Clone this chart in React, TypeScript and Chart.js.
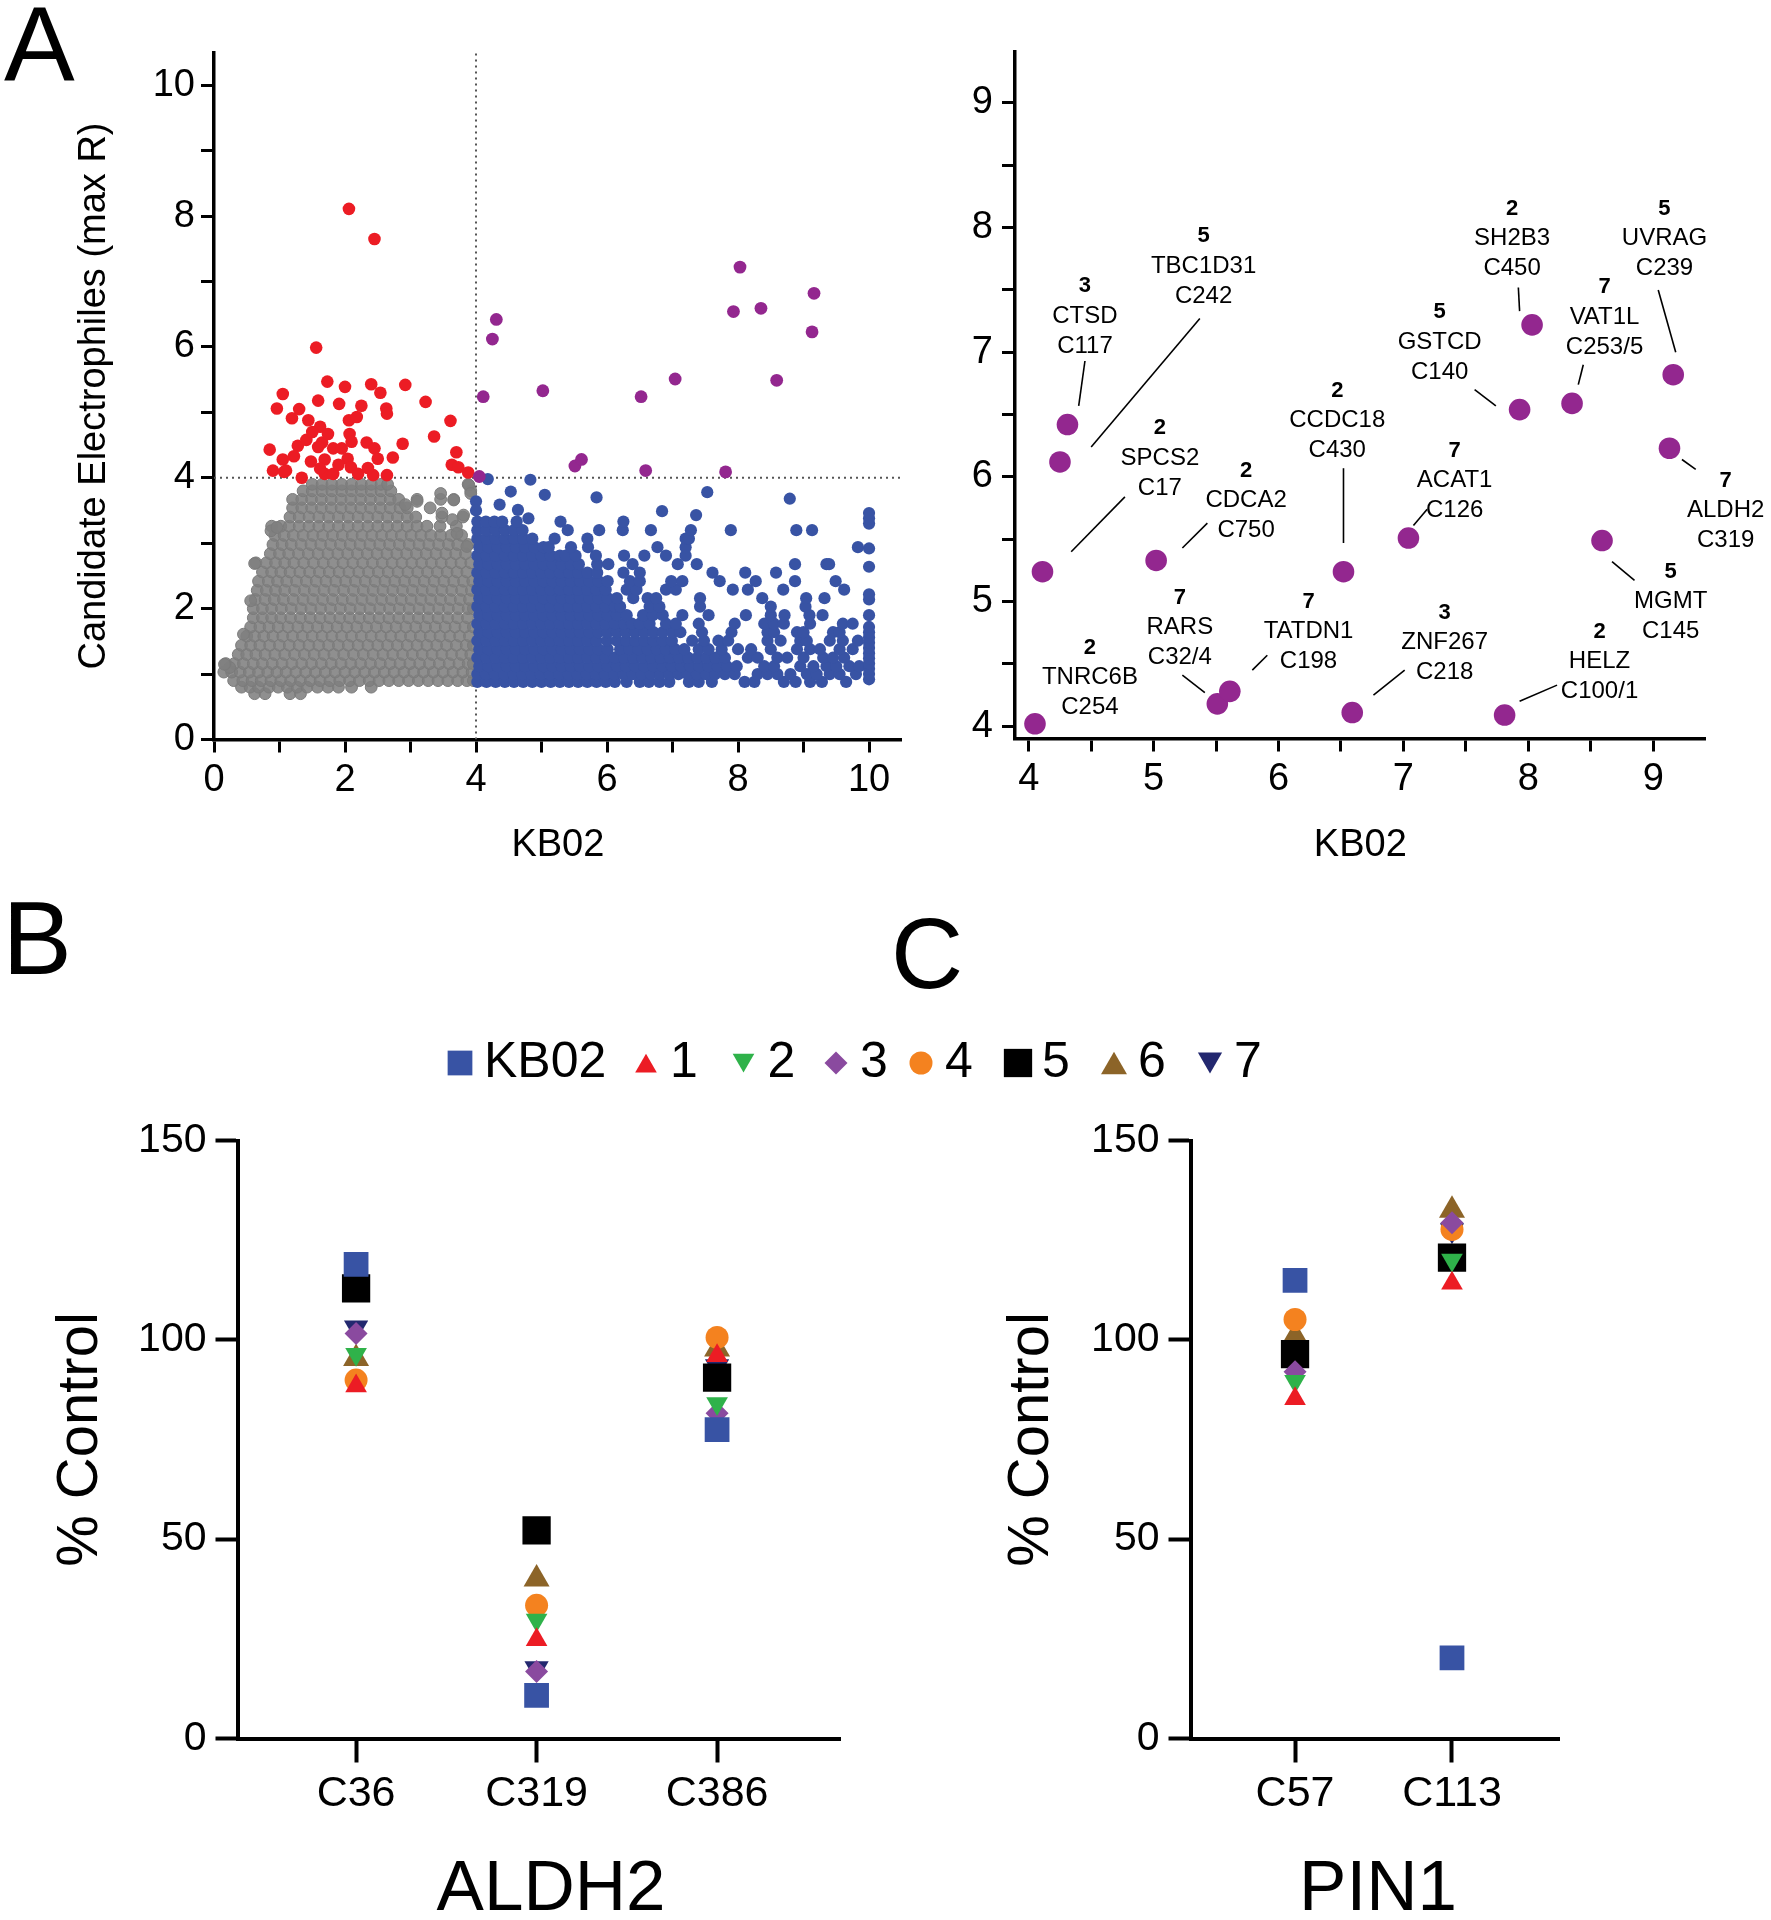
import React, { useEffect, useRef } from "react";
import { Chart, registerables } from "chart.js";
import { drawPoint } from "chart.js/helpers";

Chart.register(...registerables);

const FONT = "'Liberation Sans', Arial, Helvetica, sans-serif";
Chart.defaults.font.family = FONT;
Chart.defaults.color = "#000";

// ---------------- Panel A (left): all cysteines ----------------
const threshold = 4;

// gray: KB02 < 4 and R < 4 (dense cloud, rows of [y, x values])
const grayRows: [number, number[]][] = [
  [0.70, [0.62, 0.78, 1.16, 1.32]],
  [0.80, [0.42, 0.55, 0.68, 0.84, 0.98, 1.12, 1.27, 1.42, 1.58, 1.74, 1.9, 2.1, 2.4]],
  [0.90, [0.3, 0.44, 0.58, 0.72, 0.87, 1.02, 1.17, 1.32, 1.47, 1.62, 1.77, 1.92, 2.07, 2.22, 2.37, 2.52, 2.67, 2.82, 2.97, 3.12, 3.27, 3.42, 3.57, 3.72, 3.86, 3.96]],
  [1.03, [0.15, 0.27, 0.4, 0.54, 0.68, 0.82, 0.96, 1.1, 1.25, 1.4, 1.55, 1.7, 1.85, 2.0, 2.15, 2.3, 2.45, 2.6, 2.75, 2.9, 3.05, 3.2, 3.35, 3.5, 3.65, 3.8, 3.94]],
  [1.16, [0.18, 0.31, 0.45, 0.6, 0.74, 0.89, 1.04, 1.19, 1.34, 1.49, 1.64, 1.79, 1.94, 2.09, 2.24, 2.39, 2.54, 2.69, 2.84, 2.99, 3.14, 3.29, 3.44, 3.59, 3.74, 3.88, 3.96]],
  [1.30, [0.37, 0.5, 0.64, 0.78, 0.93, 1.08, 1.23, 1.38, 1.53, 1.68, 1.83, 1.98, 2.13, 2.28, 2.43, 2.58, 2.73, 2.88, 3.03, 3.18, 3.33, 3.48, 3.63, 3.78, 3.92]],
  [1.44, [0.42, 0.56, 0.7, 0.85, 1.0, 1.15, 1.3, 1.45, 1.6, 1.75, 1.9, 2.05, 2.2, 2.35, 2.5, 2.65, 2.8, 2.95, 3.1, 3.25, 3.4, 3.55, 3.7, 3.85, 3.96]],
  [1.58, [0.5, 0.62, 0.76, 0.9, 1.05, 1.2, 1.35, 1.5, 1.65, 1.8, 1.95, 2.1, 2.25, 2.4, 2.55, 2.7, 2.85, 3.0, 3.15, 3.3, 3.45, 3.6, 3.75, 3.9]],
  [1.72, [0.56, 0.7, 0.84, 0.98, 1.13, 1.28, 1.43, 1.58, 1.73, 1.88, 2.03, 2.18, 2.33, 2.48, 2.63, 2.78, 2.93, 3.08, 3.23, 3.38, 3.53, 3.68, 3.83, 3.96]],
  [1.86, [0.6, 0.74, 0.88, 1.02, 1.17, 1.32, 1.47, 1.62, 1.77, 1.92, 2.07, 2.22, 2.37, 2.52, 2.67, 2.82, 2.97, 3.12, 3.27, 3.42, 3.57, 3.72, 3.87]],
  [2.00, [0.6, 0.74, 0.88, 1.03, 1.18, 1.33, 1.48, 1.63, 1.78, 1.93, 2.08, 2.23, 2.38, 2.53, 2.68, 2.83, 2.98, 3.13, 3.28, 3.43, 3.58, 3.73, 3.88, 3.96]],
  [2.14, [0.63, 0.78, 0.92, 1.06, 1.21, 1.36, 1.51, 1.66, 1.81, 1.96, 2.11, 2.26, 2.41, 2.56, 2.71, 2.86, 3.01, 3.16, 3.31, 3.46, 3.61, 3.76, 3.9]],
  [2.28, [0.66, 0.8, 0.94, 1.08, 1.23, 1.38, 1.53, 1.68, 1.83, 1.98, 2.13, 2.28, 2.43, 2.58, 2.73, 2.88, 3.03, 3.18, 3.33, 3.48, 3.63, 3.78, 3.93]],
  [2.42, [0.68, 0.83, 0.97, 1.11, 1.26, 1.41, 1.56, 1.71, 1.86, 2.01, 2.16, 2.31, 2.46, 2.61, 2.76, 2.91, 3.06, 3.21, 3.36, 3.51, 3.66, 3.81, 3.95]],
  [2.56, [0.74, 0.88, 1.02, 1.16, 1.31, 1.46, 1.61, 1.76, 1.91, 2.06, 2.21, 2.36, 2.51, 2.66, 2.81, 2.96, 3.11, 3.26, 3.41, 3.56, 3.71, 3.86]],
  [2.70, [0.64, 0.8, 0.94, 1.08, 1.22, 1.37, 1.52, 1.67, 1.82, 1.97, 2.12, 2.27, 2.42, 2.57, 2.72, 2.87, 3.02, 3.17, 3.32, 3.47, 3.62, 3.77, 3.92]],
  [2.84, [0.86, 1.0, 1.14, 1.29, 1.44, 1.59, 1.74, 1.89, 2.04, 2.19, 2.34, 2.49, 2.64, 2.79, 2.94, 3.09, 3.24, 3.39, 3.54, 3.69, 3.84]],
  [2.98, [0.9, 1.04, 1.18, 1.33, 1.48, 1.63, 1.78, 1.93, 2.08, 2.23, 2.38, 2.53, 2.68, 2.83, 2.98, 3.13, 3.28, 3.43, 3.58, 3.72, 3.88]],
  [3.12, [0.93, 1.07, 1.21, 1.36, 1.51, 1.66, 1.81, 1.96, 2.11, 2.26, 2.41, 2.56, 2.71, 2.86, 3.01, 3.16, 3.31, 3.46, 3.62, 3.78]],
  [3.26, [0.88, 1.02, 1.15, 1.3, 1.45, 1.6, 1.75, 1.9, 2.05, 2.2, 2.35, 2.5, 2.65, 2.8, 2.95, 3.1, 3.25, 3.45, 3.7]],
  [3.40, [1.16, 1.3, 1.45, 1.6, 1.75, 1.9, 2.05, 2.2, 2.35, 2.5, 2.65, 2.8, 2.95, 3.08, 3.48, 3.8]],
  [3.54, [1.2, 1.34, 1.49, 1.64, 1.79, 1.94, 2.09, 2.24, 2.39, 2.54, 2.69, 2.84, 2.95, 3.3]],
  [3.67, [1.2, 1.34, 1.49, 1.64, 1.79, 1.94, 2.09, 2.24, 2.39, 2.54, 2.69, 2.82, 3.1, 3.46, 3.66]],
  [3.80, [1.36, 1.5, 1.65, 1.8, 1.95, 2.1, 2.25, 2.4, 2.55, 2.7, 3.92]],
  [3.90, [1.5, 1.65, 1.8, 1.95, 2.1, 2.25, 2.4, 2.55, 2.65, 3.88]],
];
const grayExtraX = [3.46, 3.66, 3.81, 3.89, 3.92, 3.1, 2.92, 3.48, 3.64, 3.71, 3.86, 0.62, 0.56, 0.45, 0.24, 0.16, 0.87, 0.96];
const grayExtraY = [3.76, 3.66, 3.43, 3.89, 3.76, 3.64, 3.59, 3.46, 3.36, 3.15, 2.95, 2.69, 2.12, 1.61, 1.10, 1.15, 3.19, 3.24];

// blue: KB02 > 4, R < 4
const blueRows: [number, number[]][] = [
  [0.88, [4.02, 4.16, 4.3, 4.44, 4.58, 4.72, 4.86, 5.0, 5.14, 5.28, 5.42, 5.56, 5.7, 5.84, 5.98, 6.12, 6.3, 6.5, 6.64, 6.8, 6.95, 7.25, 7.4, 7.6, 8.1, 8.25, 8.7, 8.88, 9.1, 9.28, 9.65]],
  [1.00, [4.02, 4.15, 4.29, 4.43, 4.57, 4.71, 4.85, 4.99, 5.13, 5.27, 5.41, 5.55, 5.69, 5.83, 5.97, 6.11, 6.25, 6.39, 6.53, 6.67, 6.81, 6.95, 7.09, 7.23, 7.37, 7.51, 7.65, 7.8, 7.95, 8.3, 8.45, 8.6, 8.8, 9.05, 9.2, 9.4, 9.55, 9.8]],
  [1.12, [4.05, 4.19, 4.33, 4.47, 4.61, 4.75, 4.89, 5.03, 5.17, 5.31, 5.45, 5.59, 5.73, 5.87, 6.01, 6.15, 6.29, 6.43, 6.57, 6.71, 6.85, 6.99, 7.13, 7.27, 7.41, 7.55, 7.69, 7.83, 7.98, 8.4, 8.55, 8.95, 9.15, 9.35, 9.5, 9.7, 9.85]],
  [1.25, [4.02, 4.16, 4.3, 4.44, 4.58, 4.72, 4.86, 5.0, 5.14, 5.28, 5.42, 5.56, 5.7, 5.84, 5.98, 6.12, 6.26, 6.4, 6.54, 6.68, 6.82, 6.96, 7.1, 7.24, 7.38, 7.52, 7.66, 7.8, 8.15, 8.3, 8.6, 8.75, 9.0, 9.3, 9.45, 9.62]],
  [1.38, [4.05, 4.19, 4.33, 4.47, 4.61, 4.75, 4.89, 5.03, 5.17, 5.31, 5.45, 5.59, 5.73, 5.87, 6.01, 6.2, 6.34, 6.48, 6.62, 6.76, 6.9, 7.04, 7.18, 7.4, 7.55, 7.75, 8.0, 8.2, 8.5, 8.9, 9.1, 9.25, 9.55, 9.75]],
  [1.51, [4.02, 4.16, 4.3, 4.44, 4.58, 4.72, 4.86, 5.0, 5.14, 5.28, 5.42, 5.56, 5.7, 5.84, 6.0, 6.15, 6.29, 6.43, 6.57, 6.71, 6.85, 6.99, 7.3, 7.48, 7.7, 7.85, 8.45, 8.65, 8.95, 9.05, 9.4, 9.6, 9.83]],
  [1.64, [4.05, 4.19, 4.33, 4.47, 4.61, 4.75, 4.89, 5.03, 5.17, 5.31, 5.45, 5.59, 5.73, 5.87, 6.01, 6.15, 6.29, 6.43, 6.57, 6.71, 6.85, 7.0, 7.12, 7.45, 7.9, 8.45, 8.55, 8.9, 9.0, 9.45, 9.55]],
  [1.77, [4.02, 4.16, 4.3, 4.44, 4.58, 4.72, 4.86, 5.0, 5.14, 5.28, 5.42, 5.56, 5.7, 5.84, 5.98, 6.12, 6.26, 6.38, 6.5, 6.65, 6.9, 7.05, 7.4, 7.95, 8.4, 8.55, 8.7, 9.1, 9.6, 9.75]],
  [1.90, [4.05, 4.19, 4.33, 4.47, 4.61, 4.75, 4.89, 5.03, 5.17, 5.31, 5.45, 5.59, 5.73, 5.87, 6.01, 6.15, 6.3, 6.55, 6.7, 6.85, 7.15, 7.55, 8.12, 8.5, 8.71, 9.09, 9.29]],
  [2.03, [4.02, 4.16, 4.3, 4.44, 4.58, 4.72, 4.86, 5.0, 5.14, 5.28, 5.42, 5.56, 5.7, 5.84, 5.98, 6.12, 6.2, 6.65, 6.8, 7.42, 8.5, 9.03]],
  [2.16, [4.05, 4.19, 4.33, 4.47, 4.61, 4.75, 4.89, 5.03, 5.17, 5.31, 5.45, 5.59, 5.73, 5.87, 6.01, 6.15, 6.4, 6.62, 6.75, 7.42, 8.37, 9.04, 9.32]],
  [2.29, [4.02, 4.16, 4.3, 4.44, 4.58, 4.72, 4.86, 5.0, 5.14, 5.28, 5.42, 5.56, 5.7, 5.84, 5.98, 6.3, 6.45, 6.9, 7.05, 7.92, 8.15, 8.69, 9.62]],
  [2.42, [4.05, 4.19, 4.33, 4.47, 4.61, 4.75, 4.89, 5.03, 5.17, 5.31, 5.45, 5.59, 5.73, 5.87, 6.01, 6.35, 6.5, 6.98, 7.15, 7.72, 8.27, 8.87, 9.49]],
  [2.55, [4.02, 4.16, 4.3, 4.44, 4.58, 4.72, 4.86, 5.0, 5.14, 5.28, 5.42, 5.56, 5.7, 5.85, 6.25, 6.5, 7.61, 8.11, 8.58]],
  [2.68, [4.05, 4.19, 4.33, 4.47, 4.61, 4.75, 4.89, 5.03, 5.17, 5.31, 5.45, 5.57, 5.85, 6.02, 6.39, 7.08, 7.37, 8.87, 9.35]],
  [2.81, [4.02, 4.16, 4.3, 4.44, 4.58, 4.72, 4.86, 5.0, 5.14, 5.28, 5.37, 5.52, 5.83, 6.26, 6.57, 6.9, 7.2]],
  [2.94, [4.05, 4.19, 4.33, 4.47, 4.61, 4.75, 4.89, 5.03, 5.11, 5.45, 5.71, 6.77, 7.2, 9.83]],
  [3.07, [4.02, 4.16, 4.3, 4.44, 4.58, 4.72, 4.86, 5.2, 5.7, 7.2, 7.25]],
  [3.20, [4.02, 4.16, 4.3, 4.44, 4.58, 4.71, 5.4, 5.88, 6.24, 6.67, 7.28, 7.89, 8.89, 9.13]],
  [3.33, [4.02, 4.15, 4.28, 4.4, 4.62, 5.29, 6.25]],
];
const blueExtraX = [4.18, 4.83, 4.53, 5.05, 4.0, 4.36, 4.64, 4.8, 5.84, 6.84, 7.53, 8.79, 7.36, 9.39, 4.0];
const blueExtraY = [3.98, 3.97, 3.79, 3.74, 3.64, 3.59, 3.51, 3.38, 3.70, 3.49, 3.78, 3.68, 3.43, 2.68, 3.50];
// cysteines with KB02 ratio capped at 10
const blueCappedY = [0.92, 1.0, 1.08, 1.16, 1.24, 1.32, 1.4, 1.48, 1.56, 1.64, 1.72, 1.9, 2.14, 2.22, 2.64, 2.92, 3.3, 3.38, 3.46];
const cappedKB02 = 10;

// red: KB02 < 4, R > 4
const redX = [2.06, 2.45, 1.56, 1.05, 0.96, 1.19, 0.85, 0.9, 1.05, 1.1, 1.28, 1.34, 1.41, 1.44, 1.48, 1.59, 1.73, 1.62, 1.65, 1.74, 1.59, 1.69, 1.82, 1.69, 1.82, 1.62, 1.91, 2.0, 2.06, 2.07, 2.04, 2.09, 2.18, 2.2, 2.33, 2.4, 2.45, 2.5, 2.43, 2.54, 2.63, 2.64, 2.64, 2.73, 2.88, 2.92, 3.23, 3.36, 3.61, 3.7, 3.63, 3.73, 3.88, 1.22, 1.07, 1.3, 1.5, 2.25, 1.95, 2.1, 2.35, 1.9];
const redY = [8.11, 7.65, 5.99, 5.28, 5.06, 4.91, 4.43, 4.11, 4.28, 4.11, 4.49, 4.0, 4.58, 4.88, 4.25, 5.18, 5.47, 4.78, 4.54, 4.67, 4.47, 4.28, 4.45, 4.06, 4.06, 4.14, 5.13, 5.39, 4.88, 4.67, 4.29, 4.16, 4.93, 4.06, 4.54, 5.43, 4.45, 4.29, 4.04, 5.3, 5.06, 4.98, 4.04, 4.31, 4.52, 5.42, 5.16, 4.63, 4.87, 4.39, 4.2, 4.16, 4.08, 4.33, 4.09, 5.05, 4.7, 5.1, 4.45, 4.55, 4.15, 4.2];

// purple: both > 4 (also plotted in the zoomed panel)
const hitX = [4.05, 4.11, 4.25, 4.31, 5.02, 5.51, 5.61, 6.52, 6.59, 7.04, 7.81, 7.93, 8.03, 8.35, 8.59, 9.13, 9.16];
const hitY = [4.02, 5.24, 6.12, 6.42, 5.33, 4.18, 4.28, 5.24, 4.11, 5.51, 4.09, 6.54, 7.22, 6.59, 5.49, 6.23, 6.82];
const hitCompound = ["2", "2", "5", "3", "2", "7", "7", "2", "3", "7", "2", "5", "2", "7", "5", "7", "5"];
const hitGene = ["TNRC6B", "SPCS2", "TBC1D31", "CTSD", "CDCA2", "RARS", "TATDN1", "CCDC18", "ZNF267", "ACAT1", "HELZ", "GSTCD", "SH2B3", "VAT1L", "MGMT", "ALDH2", "UVRAG"];
const hitSite = ["C254", "C17", "C242", "C117", "C750", "C32/4", "C198", "C430", "C218", "C126", "C100/1", "C140", "C450", "C253/5", "C145", "C319", "C239"];
// annotation layout (data coordinates of the gene-name line, and leader segments)
const hitLabelAt: [number, number][] = [
  [4.49, 4.39], [5.05, 6.15], [5.40, 7.69], [4.45, 7.29], [5.74, 5.81], [5.21, 4.79], [6.24, 4.76], [6.47, 6.45], [7.33, 4.67],
  [7.41, 5.97], [8.57, 4.52], [7.29, 7.08], [7.87, 7.91], [8.61, 7.28], [9.14, 5.00], [9.58, 5.73], [9.09, 7.91],
];
const hitLeader: (number[] | null)[] = [
  null, [4.77, 5.84, 4.34, 5.40], [5.37, 7.27, 4.50, 6.24], [4.45, 6.93, 4.40, 6.57], [5.43, 5.63, 5.23, 5.43],
  [5.23, 4.41, 5.41, 4.27], [5.79, 4.45, 5.91, 4.57], [6.52, 6.07, 6.52, 5.47], [6.76, 4.25, 7.01, 4.45],
  [7.19, 5.74, 7.08, 5.61], [7.93, 4.20, 8.23, 4.33], [7.57, 6.70, 7.74, 6.57], [7.92, 7.52, 7.93, 7.33],
  [8.44, 6.90, 8.40, 6.74], [8.67, 5.32, 8.85, 5.17], [9.23, 6.14, 9.34, 6.06], [9.04, 7.50, 9.18, 7.00],
];

// ---------------- Panels B and C ----------------
const compounds = ["KB02", "1", "2", "3", "4", "5", "6", "7"];
const aldh2Sites = ["C36", "C319", "C386"];
const aldh2Values = [
  [118.9, 10.8, 77.5],
  [88.4, 24.8, 96.0],
  [96.4, 29.7, 84.0],
  [101.6, 16.8, 81.6],
  [89.9, 33.4, 100.6],
  [112.9, 52.2, 90.5],
  [95.3, 40.0, 97.7],
  [103.1, 17.6, 93.4],
];
const pin1Sites = ["C57", "C113"];
const pin1Values = [
  [114.9, 20.2],
  [85.2, 114.2],
  [89.6, 120.0],
  [92.0, 129.4],
  [105.1, 127.7],
  [96.4, 120.6],
  [100.9, 132.5],
  [96.0, 127.5],
];
const compoundColor = ["#3853a4", "#ec1c24", "#2fb24a", "#8a4a9f", "#f4821f", "#000000", "#8c6428", "#23286f"];
const compoundStyle = ["rect", "triangle", "triangle", "rectRot", "circle", "rect", "triangle", "triangle"];
const compoundRotation = [0, 0, 180, 0, 0, 0, 0, 180];
const compoundRadius = [17.5, 12.5, 12.5, 11.5, 11.5, 20, 15, 14];
const legendCenterX = [460, 646, 743.5, 836, 921, 1018, 1114, 1210];

// ---------------- helpers ----------------
const RED = "#ec1c24";
const BLUE = "#3853a4";
const PURPLE = "#93278f";

function rowsToPoints(rows: [number, number[]][]) {
  const out: { x: number; y: number }[] = [];
  rows.forEach(([y, xs]) => xs.forEach((x) => out.push({ x, y })));
  return out;
}
function zip(xs: number[], ys: number[]) {
  return xs.map((x, i) => ({ x, y: ys[i] }));
}

function textPlugin(id: string, items: { t: string; x: number; y: number; size: number; align?: string; bold?: boolean }[]) {
  return {
    id,
    afterDraw(chart: any) {
      const ctx = chart.ctx;
      ctx.save();
      ctx.fillStyle = "#000";
      ctx.textBaseline = "alphabetic";
      items.forEach((it) => {
        ctx.textAlign = it.align || "left";
        ctx.font = `${it.bold ? "bold " : ""}${it.size}px ${FONT}`;
        ctx.fillText(it.t, it.x, it.y);
      });
      ctx.restore();
    },
  };
}

function topAxis(o: {
  min: number; max: number; step: number; size: number; horizontal: boolean;
  title?: string; titlePad?: any; tickPad: number; labelIf: (v: number) => boolean;
}) {
  return {
    type: "linear",
    min: o.min,
    max: o.max,
    afterFit: (s: any) => {
      if (o.horizontal) s.height = o.size;
      else s.width = o.size;
    },
    ticks: {
      stepSize: o.step,
      includeBounds: false,
      autoSkip: false,
      maxRotation: 0,
      minRotation: 0,
      padding: o.tickPad,
      color: "#000",
      font: { size: 38, family: FONT },
      callback: (v: number) => (o.labelIf(v) ? String(v) : ""),
    },
    grid: { display: true, drawOnChartArea: false, drawTicks: true, tickLength: 13, tickWidth: 3, tickColor: "#000" },
    border: { display: true, color: "#000", width: 3.5 },
    title: o.title
      ? { display: true, text: o.title, color: "#000", font: { size: 38, family: FONT }, padding: o.titlePad }
      : { display: false },
  };
}

function dotPlot(sites: string[], values: number[][], o: {
  yWidth: number; padRight: number; xMin: number; xMax: number; yTitlePad: number;
}) {
  return {
    type: "scatter",
    data: {
      datasets: compounds.map((c, i) => ({
        label: c,
        data: values[i].map((v, j) => ({ x: j + 1, y: v })),
        pointStyle: compoundStyle[i],
        pointRotation: compoundRotation[i],
        pointRadius: compoundRadius[i],
        pointHoverRadius: compoundRadius[i],
        backgroundColor: compoundColor[i],
        borderColor: compoundColor[i],
        borderWidth: 0,
        pointBorderWidth: 0,
      })),
    },
    options: {
      responsive: false,
      animation: false,
      events: [],
      layout: { padding: { top: 260.5, right: o.padRight, left: 0, bottom: 0 } },
      plugins: { legend: { display: false }, tooltip: { enabled: false } },
      scales: {
        x: {
          type: "linear",
          min: o.xMin,
          max: o.xMax,
          afterFit: (s: any) => { s.height = 181.5; },
          afterBuildTicks: (s: any) => { s.ticks = sites.map((_, j) => ({ value: j + 1 })); },
          ticks: {
            autoSkip: false, maxRotation: 0, minRotation: 0, padding: 6, color: "#000",
            font: { size: 43, family: FONT },
            callback: (v: number) => sites[Math.round(v) - 1] ?? "",
          },
          grid: { display: true, drawOnChartArea: false, drawTicks: true, tickLength: 24, tickWidth: 4, tickColor: "#000" },
          border: { display: true, color: "#000", width: 4 },
          title: { display: false },
        },
        y: {
          type: "linear",
          min: 0,
          max: 150,
          afterFit: (s: any) => { s.width = o.yWidth; },
          ticks: { stepSize: 50, includeBounds: false, padding: 9, color: "#000", font: { size: 41, family: FONT } },
          grid: { display: true, drawOnChartArea: false, drawTicks: true, tickLength: 22, tickWidth: 4, tickColor: "#000" },
          border: { display: true, color: "#000", width: 4 },
          title: { display: true, text: "% Control", color: "#000", font: { size: 58, family: FONT }, padding: { top: o.yTitlePad, bottom: 0 } },
        },
      },
    },
  };
}

// ---------------- chart configs ----------------
function configA1(): any {
  const grayPts = rowsToPoints(grayRows).concat(zip(grayExtraX, grayExtraY));
  const bluePts = rowsToPoints(blueRows)
    .concat(zip(blueExtraX, blueExtraY))
    .concat(blueCappedY.map((y) => ({ x: cappedKB02, y })));
  return {
    type: "scatter",
    data: {
      datasets: [
        { label: "both", data: zip(hitX, hitY), pointRadius: 6.4, backgroundColor: PURPLE, borderColor: PURPLE, borderWidth: 0, order: 1 },
        { label: "electrophiles", data: zip(redX, redY), pointRadius: 6.3, backgroundColor: RED, borderColor: RED, borderWidth: 0, order: 2 },
        { label: "KB02", data: bluePts, pointRadius: 6.1, backgroundColor: BLUE, borderColor: BLUE, borderWidth: 0, order: 3 },
        { label: "other", data: grayPts, pointRadius: 5.9, backgroundColor: "rgba(128,128,128,0.88)", borderColor: "rgba(122,122,122,1)", borderWidth: 1, order: 4 },
        {
          label: "v", data: [{ x: threshold, y: 0 }, { x: threshold, y: 10.5 }], showLine: true, pointRadius: 0,
          borderColor: "#555", borderWidth: 2, borderDash: [2, 4], order: 5,
        },
        {
          label: "h", data: [{ x: 0, y: threshold }, { x: 10.5, y: threshold }], showLine: true, pointRadius: 0,
          borderColor: "#555", borderWidth: 2, borderDash: [2, 4], order: 5,
        },
      ],
    },
    options: {
      responsive: false,
      animation: false,
      events: [],
      layout: { padding: { top: 52.5, right: 38.2, left: 0, bottom: 0 } },
      plugins: { legend: { display: false }, tooltip: { enabled: false } },
      scales: {
        x: topAxis({ min: 0, max: 10.5, step: 1, size: 160.5, horizontal: true, title: "KB02", titlePad: { top: 0, bottom: 32 }, tickPad: 5, labelIf: (v) => v % 2 === 0 }),
        y: topAxis({ min: 0, max: 10.5, step: 1, size: 214, horizontal: false, title: "Candidate Electrophiles (max R)", titlePad: { top: 71.5, bottom: 0 }, tickPad: 6, labelIf: (v) => v % 2 === 0 }),
      },
    },
    plugins: [textPlugin("letterA", [{ t: "A", x: 4, y: 80, size: 106 }])],
  };
}

const hitLabelPlugin = {
  id: "hitLabels",
  afterDraw(chart: any) {
    const { ctx } = chart;
    const xs = chart.scales.x;
    const ys = chart.scales.y;
    ctx.save();
    ctx.strokeStyle = "#000";
    ctx.lineWidth = 1.6;
    hitLeader.forEach((s) => {
      if (!s) return;
      ctx.beginPath();
      ctx.moveTo(xs.getPixelForValue(s[0]), ys.getPixelForValue(s[1]));
      ctx.lineTo(xs.getPixelForValue(s[2]), ys.getPixelForValue(s[3]));
      ctx.stroke();
    });
    ctx.fillStyle = "#000";
    ctx.textAlign = "center";
    ctx.textBaseline = "middle";
    hitGene.forEach((g, i) => {
      const px = xs.getPixelForValue(hitLabelAt[i][0]);
      const py = ys.getPixelForValue(hitLabelAt[i][1]);
      ctx.font = `bold 22px ${FONT}`;
      ctx.fillText(hitCompound[i], px, py - 30);
      ctx.font = `24px ${FONT}`;
      ctx.fillText(g, px, py);
      ctx.fillText(hitSite[i], px, py + 30);
    });
    ctx.restore();
  },
};

function configA2(): any {
  return {
    type: "scatter",
    data: {
      datasets: [
        { label: "both", data: zip(hitX, hitY), pointRadius: 10.8, backgroundColor: PURPLE, borderColor: PURPLE, borderWidth: 0 },
      ],
    },
    options: {
      responsive: false,
      animation: false,
      events: [],
      layout: { padding: { top: 51.8, right: 65.3, left: 0, bottom: 0 } },
      plugins: { legend: { display: false }, tooltip: { enabled: false } },
      scales: {
        x: topAxis({ min: 3.89, max: 9.42, step: 0.5, size: 161.5, horizontal: true, title: "KB02", titlePad: { top: 0, bottom: 32 }, tickPad: 5, labelIf: (v) => Number.isInteger(v) }),
        y: topAxis({ min: 3.902, max: 9.41, step: 0.5, size: 75, horizontal: false, tickPad: 9, labelIf: (v) => Number.isInteger(v) }),
      },
    },
    plugins: [hitLabelPlugin],
  };
}

const legendPlugin = {
  id: "compoundLegend",
  afterDraw(chart: any) {
    const ctx = chart.ctx;
    const midY = 183;
    ctx.save();
    chart.data.datasets.forEach((ds: any, i: number) => {
      const r = ds.pointRadius;
      let cy = midY;
      if (ds.pointStyle === "triangle") cy = ds.pointRotation ? midY - r / 4 : midY + r / 4;
      ctx.fillStyle = ds.backgroundColor;
      ctx.strokeStyle = ds.backgroundColor;
      drawPoint(ctx, { pointStyle: ds.pointStyle, radius: r, rotation: ds.pointRotation, borderWidth: 0 } as any, legendCenterX[i], cy);
      ctx.fillStyle = "#000";
      ctx.font = `50px ${FONT}`;
      ctx.textAlign = "left";
      ctx.textBaseline = "alphabetic";
      ctx.fillText(ds.label, legendCenterX[i] + 24, 197);
    });
    ctx.restore();
  },
};

function configB(): any {
  const cfg: any = dotPlot(aldh2Sites, aldh2Values, { yWidth: 237.5, padRight: 931, xMin: 0.343, xMax: 3.681, yTitlePad: 46.2 });
  cfg.plugins = [
    legendPlugin,
    textPlugin("letterB", [
      { t: "B", x: 2.5, y: 94, size: 104 },
      { t: "ALDH2", x: 551, y: 1030, size: 71, align: "center" },
    ]),
  ];
  return cfg;
}
function configC(): any {
  const cfg: any = dotPlot(pin1Sites, pin1Values, { yWidth: 310.5, padRight: 211.8, xMin: 0.334, xMax: 2.683, yTitlePad: 117 });
  cfg.plugins = [
    textPlugin("letterC", [
      { t: "C", x: 11, y: 108, size: 100 },
      { t: "PIN1", x: 498, y: 1030, size: 71, align: "center" },
    ]),
  ];
  return cfg;
}

export default function App() {
  const a1 = useRef<HTMLCanvasElement>(null);
  const a2 = useRef<HTMLCanvasElement>(null);
  const b = useRef<HTMLCanvasElement>(null);
  const c = useRef<HTMLCanvasElement>(null);

  useEffect(() => {
    const charts: Chart[] = [];
    if (a1.current) charts.push(new Chart(a1.current, configA1()));
    if (a2.current) charts.push(new Chart(a2.current, configA2()));
    if (b.current) charts.push(new Chart(b.current, configB()));
    if (c.current) charts.push(new Chart(c.current, configC()));
    return () => charts.forEach((ch) => ch.destroy());
  }, []);

  return (
    <div style={{ position: "absolute", left: 0, top: 0, width: 1771, height: 1920, background: "#fff", overflow: "hidden" }}>
      <canvas ref={a1} width={940} height={900} style={{ position: "absolute", left: 0, top: 0, width: 940, height: 900 }} />
      <canvas ref={a2} width={831} height={900} style={{ position: "absolute", left: 940, top: 0, width: 831, height: 900 }} />
      <canvas ref={b} width={1771} height={1040} style={{ position: "absolute", left: 0, top: 880, width: 1771, height: 1040 }} />
      <canvas ref={c} width={891} height={1040} style={{ position: "absolute", left: 880, top: 880, width: 891, height: 1040 }} />
    </div>
  );
}
